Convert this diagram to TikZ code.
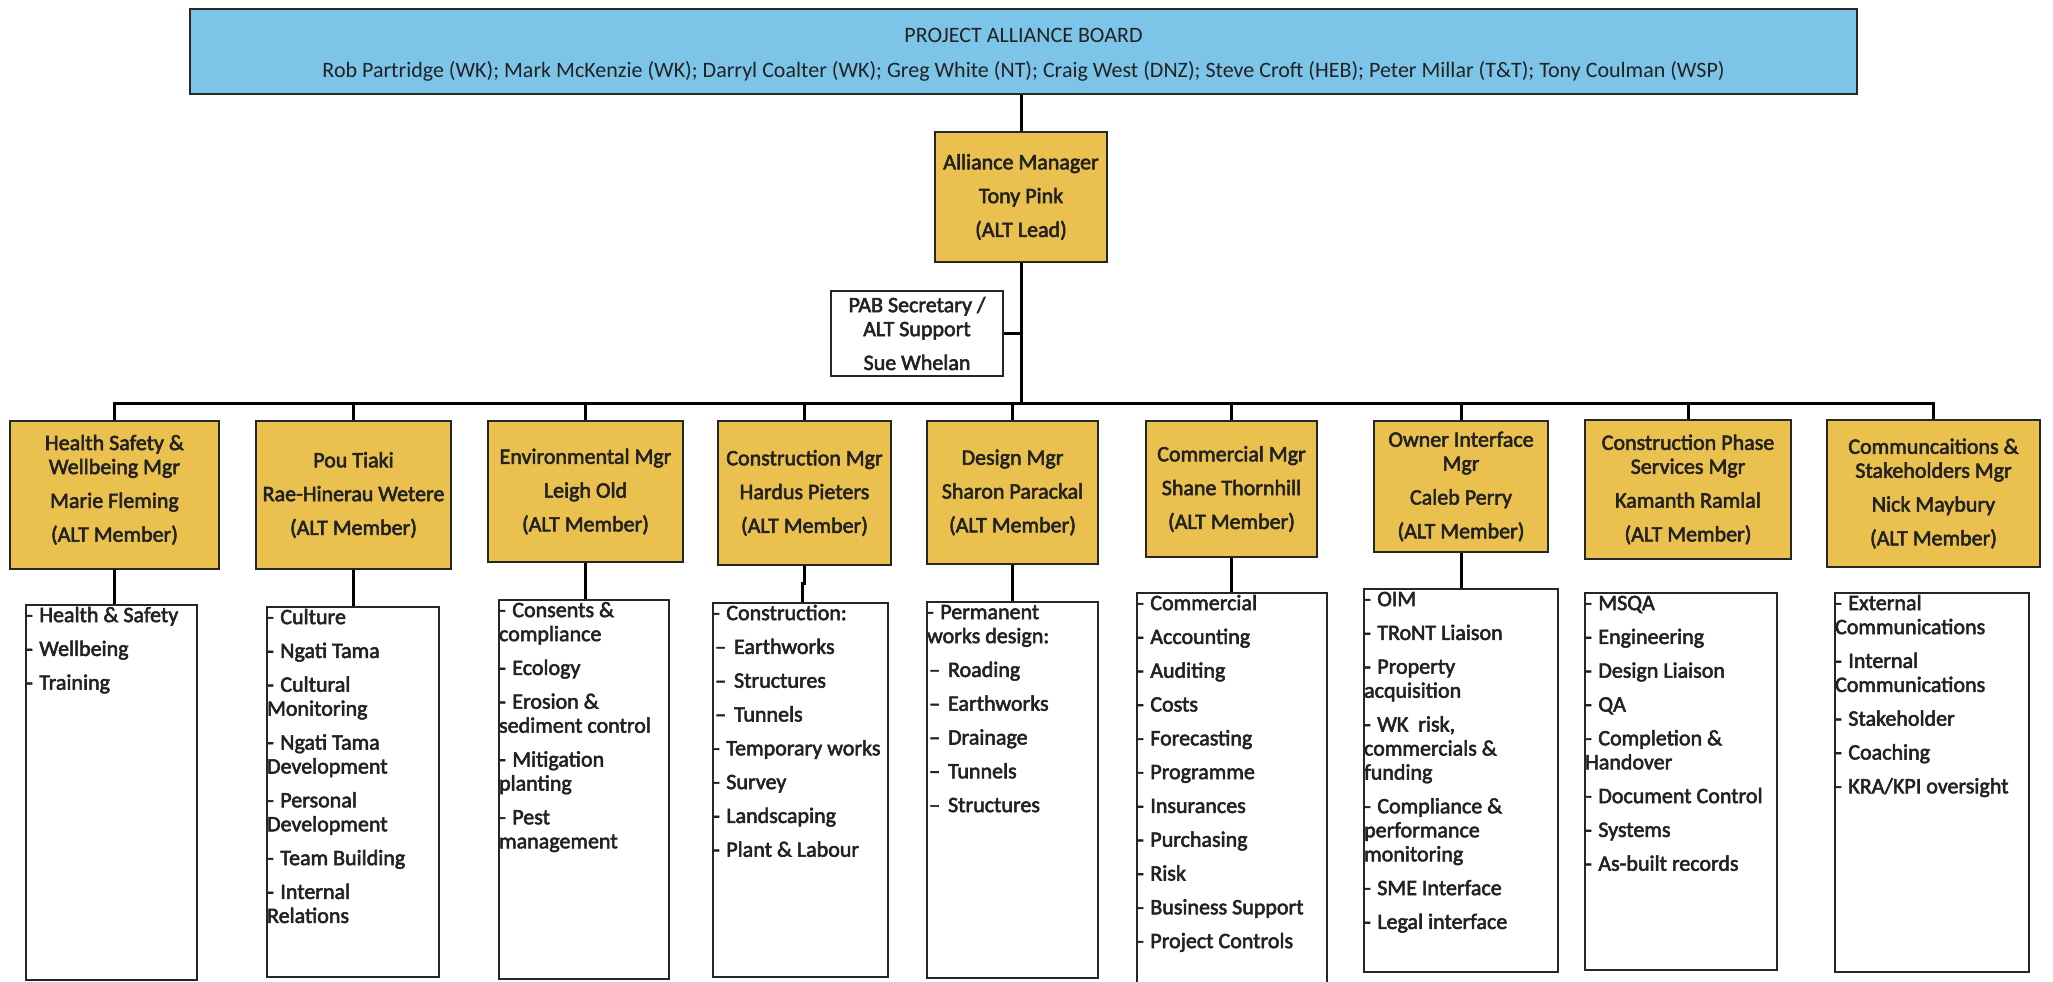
\documentclass[tikz,border=0pt]{standalone}
\usepackage{fontspec}
\setmainfont{Carlito}
\newfontfamily\heavyfont{Carlito}[FakeBold=2.5]
\usetikzlibrary{calc}

\definecolor{pabblue}{HTML}{7DC4E9}
\definecolor{mgrgold}{HTML}{EAC04E}
\definecolor{ink}{HTML}{222222}
\definecolor{edge}{HTML}{262626}

% list item markers and spacing
\newcommand{\hy}{-\hspace{6.5pt}}
\newcommand{\subhy}{\hspace{2pt}–\hspace{8pt}}
\newcommand{\topstrut}{\rule{0pt}{17pt}}
\newcommand{\nx}{\\[9.8pt]}
\newcommand{\lowstrut}{\rule[-13.5pt]{0pt}{0pt}}

% box from its corners: name, x1, y1, x2, y2, style, text
\newcommand{\placebox}[7]{%
  \node[#6, minimum width={#4-#2}, minimum height={#5-#3}] (#1)
    at ({(#2+#4)/2},{(#3+#5)/2}) {#7};}

\tikzset{
  boxtext/.style={font=\heavyfont\fontsize{22}{24}\selectfont, text=ink},
  pabbox/.style={draw=edge, line width=2.5pt, fill=pabblue, inner sep=0pt,
    align=center, font=\fontsize{22}{24}\selectfont, text=ink},
  mgr/.style={draw=edge, line width=2.2pt, fill=mgrgold, inner sep=0pt,
    align=center, boxtext},
  plainbox/.style={draw=edge, line width=1.8pt, fill=white, inner sep=0pt,
    align=center, boxtext},
  duty/.style={draw=edge, line width=1.8pt, fill=white, inner sep=0pt},
  dutytext/.style={anchor=north west, inner sep=0pt, outer sep=0pt,
    align=left, boxtext},
  link/.style={line width=3pt, draw=black},
}

\begin{document}
\begin{tikzpicture}[x=1pt, y=-1pt]
\fill[white] (0,0) rectangle (2053,982);
\useasboundingbox (0,0) rectangle (2053,982);

% board, alliance manager and support
\placebox{pab}{190}{9}{1857}{94}{pabbox}{\rule{0pt}{20pt}PROJECT ALLIANCE BOARD\\[11pt]Rob Partridge (WK); Mark McKenzie (WK); Darryl Coalter (WK); Greg White (NT); Craig West (DNZ); Steve Croft (HEB); Peter Millar (T\&T); Tony Coulman (WSP)}
\placebox{am}{935}{132}{1107}{262}{mgr}{Alliance Manager\nx Tony Pink\nx (ALT Lead)}
\placebox{sec}{831}{291}{1003}{376}{plainbox}{PAB Secretary /\\ALT Support\nx Sue Whelan}

% alliance leadership team
\placebox{m1}{10}{421}{219}{569}{mgr}{Health Safety \&\\Wellbeing Mgr\nx Marie Fleming\nx (ALT Member)\lowstrut}
\placebox{m2}{256}{421}{451}{569}{mgr}{Pou Tiaki\nx Rae-Hinerau Wetere\nx (ALT Member)}
\placebox{m3}{488}{421}{683}{562}{mgr}{Environmental Mgr\nx Leigh Old\nx (ALT Member)}
\placebox{m4}{718}{421}{891}{565}{mgr}{Construction Mgr\nx Hardus Pieters\nx (ALT Member)}
\placebox{m5}{927}{421}{1098}{564}{mgr}{Design Mgr\nx Sharon Parackal\nx (ALT Member)}
\placebox{m6}{1146}{421}{1317}{557}{mgr}{Commercial Mgr\nx Shane Thornhill\nx (ALT Member)}
\placebox{m7}{1374}{421}{1548}{552}{mgr}{Owner Interface\\Mgr\nx Caleb Perry\nx (ALT Member)}
\placebox{m8}{1585}{420}{1791}{559}{mgr}{Construction Phase\\Services Mgr\nx Kamanth Ramlal\nx (ALT Member)}
\placebox{m9}{1827}{420}{2040}{567}{mgr}{Communcaitions \&\\Stakeholders Mgr\nx Nick Maybury\nx (ALT Member)}

% responsibility boxes
\placebox{l1}{26}{605}{197}{980}{duty}{}
\placebox{l2}{267}{607}{439}{977}{duty}{}
\placebox{l3}{499}{600}{669}{979}{duty}{}
\placebox{l4}{713}{603}{888}{977}{duty}{}
\placebox{l5}{927}{602}{1098}{978}{duty}{}
\placebox{l6}{1137}{593}{1327}{992}{duty}{}
\placebox{l7}{1364}{589}{1558}{972}{duty}{}
\placebox{l8}{1585}{593}{1777}{970}{duty}{}
\placebox{l9}{1835}{593}{2029}{972}{duty}{}

\node[dutytext] (l1t) at ([xshift=1pt,yshift=-1pt]l1.north west) {\topstrut\hy Health \& Safety\nx\hy Wellbeing\nx\hy Training};
\node[dutytext] (l2t) at ([xshift=1pt,yshift=-1pt]l2.north west) {\topstrut\hy Culture\nx\hy Ngati Tama\nx\hy Cultural\\Monitoring\nx\hy Ngati Tama\\Development\nx\hy Personal\\Development\nx\hy Team Building\nx\hy Internal\\Relations};
\node[dutytext] (l3t) at ([xshift=1pt,yshift=-1pt]l3.north west) {\topstrut\hy Consents \&\\compliance\nx\hy Ecology\nx\hy Erosion \&\\sediment control\nx\hy Mitigation\\planting\nx\hy Pest\\management};
\node[dutytext] (l4t) at ([xshift=1pt,yshift=-1pt]l4.north west) {\topstrut\hy Construction:\nx\subhy Earthworks\nx\subhy Structures\nx\subhy Tunnels\nx\hy Temporary works\nx\hy Survey\nx\hy Landscaping\nx\hy Plant \& Labour};
\node[dutytext] (l5t) at ([xshift=1pt,yshift=-1pt]l5.north west) {\topstrut\hy Permanent\\works design:\nx\subhy Roading\nx\subhy Earthworks\nx\subhy Drainage\nx\subhy Tunnels\nx\subhy Structures};
\node[dutytext] (l6t) at ([xshift=1pt,yshift=-1pt]l6.north west) {\topstrut\hy Commercial\nx\hy Accounting\nx\hy Auditing\nx\hy Costs\nx\hy Forecasting\nx\hy Programme\nx\hy Insurances\nx\hy Purchasing\nx\hy Risk\nx\hy Business Support\nx\hy Project Controls};
\node[dutytext] (l7t) at ([xshift=1pt,yshift=-1pt]l7.north west) {\topstrut\hy OIM\nx\hy TRoNT Liaison\nx\hy Property\\acquisition\nx\hy WK\ \ risk,\\commercials \&\\funding\nx\hy Compliance \&\\performance\\monitoring\nx\hy SME Interface\nx\hy Legal interface};
\node[dutytext] (l8t) at ([xshift=1pt,yshift=-1pt]l8.north west) {\topstrut\hy MSQA\nx\hy Engineering\nx\hy Design Liaison\nx\hy QA\nx\hy Completion \&\\Handover\nx\hy Document Control\nx\hy Systems\nx\hy As-built records};
\node[dutytext] (l9t) at ([xshift=1pt,yshift=-1pt]l9.north west) {\topstrut\hy External\\Communications\nx\hy Internal\\Communications\nx\hy Stakeholder\nx\hy Coaching\nx\hy KRA/KPI oversight};

% reporting lines
\coordinate (busy) at (0,403);
\coordinate (bus) at (am.south |- busy);
\draw[link] (pab.south -| am.north) -- (am.north);
\draw[link] (am.south) -- (bus);
\draw[link] (sec.east) -- (sec.east -| am.south);
\draw[link] (m1.north) |- (bus);
\draw[link] (m9.north) |- (bus);
\foreach \i in {2,...,8} \draw[link] (m\i.north) -- (m\i.north |- bus);
\foreach \i in {1,2,3,5,6,7} \draw[link] (m\i.south) -- (m\i.south |- l\i.north);
\draw[link] (m4.south) -- ++(0,17) -| ([xshift=1.5pt]l4.north);
\end{tikzpicture}
\end{document}
